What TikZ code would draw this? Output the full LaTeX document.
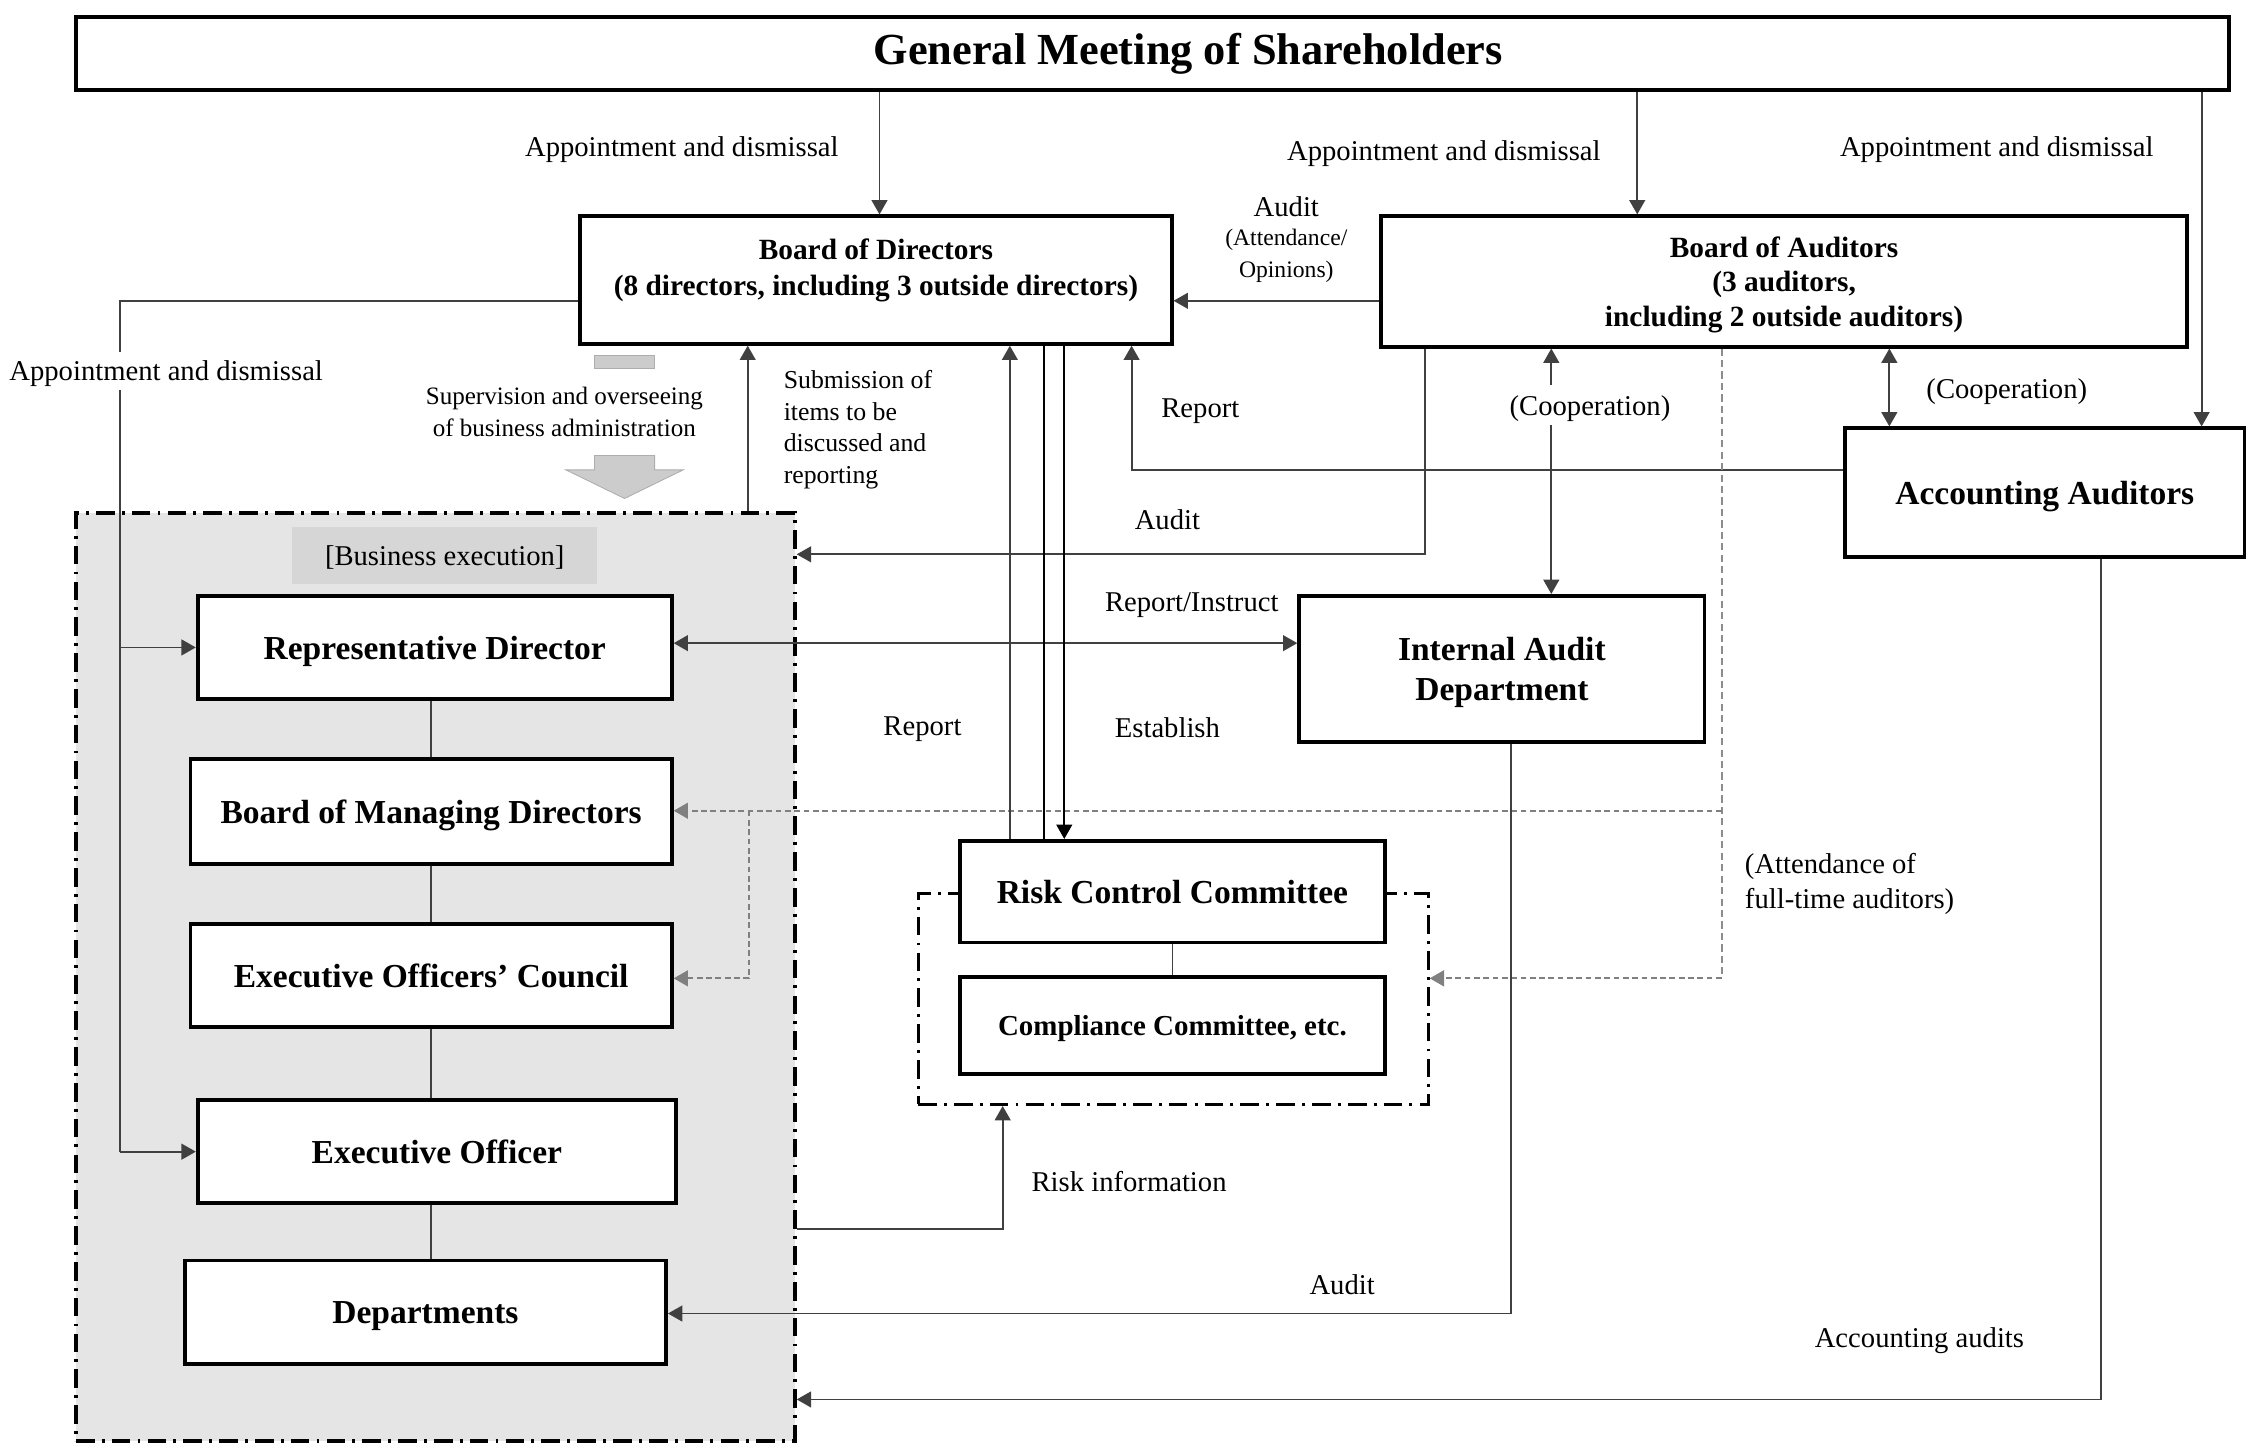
\documentclass[tikz,border=0pt]{standalone}
\usepackage{fontspec}
\setmainfont{Liberation Serif}
\usetikzlibrary{arrows.meta,calc}
\begin{document}
\begin{tikzpicture}[x=1pt,y=-1pt,
  box/.style={draw=black, line width=2.6pt, fill=white, inner sep=0pt, align=center, text depth=0pt, font=\bfseries\fontsize{23.4}{28}\selectfont},
  boxtext/.style={inner sep=0pt, align=center, text depth=0pt, font=\bfseries\fontsize{20.5}{25}\selectfont},
  lbl/.style={inner sep=1pt, text depth=0pt, font=\fontsize{20}{24}\selectfont, align=center},
  slbl/.style={inner sep=1pt, text depth=0pt, font=\fontsize{17.5}{22}\selectfont, align=center},
  conn/.style={draw=black!75, line width=1.3pt},
  tip/.style={-{Triangle[length=10pt,width=11pt]}},
  arr/.style={conn, tip},
  darr/.style={conn, {Triangle[length=10pt,width=11pt]}-{Triangle[length=10pt,width=11pt]}},
  dashA/.style={draw=black!50, line width=1.6pt, dash pattern=on 4pt off 2.5pt, tip},
  dashB/.style={draw=black!45, line width=1.1pt, dash pattern=on 5pt off 3pt},
  dashdot/.style={draw=black, line width=2.4pt, dash pattern=on 13pt off 5pt on 2pt off 5pt},
]
\useasboundingbox (0,0) rectangle (1568,1011);

% helper rows and columns
\foreach \r in {210,328,387,449,566,683,858,917,977}{\coordinate (r\r) at (0,\r);}
\foreach \c in {84,301,522,523,614,700,705,729,743,790,995,1055,1083,1143,1202,1319,1467,1537}{\coordinate (c\c) at (\c,0);}

% business execution area
\node[dashdot, fill=black!10, minimum width=502pt, minimum height=648pt, inner sep=0pt] (exec) at (304,682) {};
\node[fill=black!16, minimum width=213pt, minimum height=40pt, inner sep=0pt, text depth=0pt, font=\fontsize{20}{24}\selectfont] (bexlbl) at (310.5,388) {[Business execution]};

% risk committee group frame
\node[dashdot, line width=2.2pt, minimum width=356pt, minimum height=147pt, inner sep=0pt] (risk) at (819,697.5) {};

% supervision block arrow
\fill[black!20, draw=black!32, line width=0.6pt] (415,248) rectangle (457,257);
\fill[black!20, draw=black!32, line width=0.6pt] (415,318) -- (457,318) -- (457,328) -- (477,328) -- (436,348) -- (395,328) -- (415,328) -- cycle;

% boxes
\node[box, text depth=, font=\bfseries\fontsize{31}{36}\selectfont, minimum width=1503pt, minimum height=51pt] (gm) at (804.5,37.5) {\hspace*{50pt}General Meeting of Shareholders};
\node[box, minimum width=413pt, minimum height=89pt] (bod) at (611.5,195.5) {};
\node[boxtext] (bodt) at (611.5,186.5) {Board of Directors\\(8 directors, including 3 outside directors)};
\node[box, font=\bfseries\fontsize{20.5}{24}\selectfont, minimum width=563pt, minimum height=91pt] (boa) at (1245.5,196.5) {Board of Auditors\\(3 auditors,\\including 2 outside auditors)};
\node[box, minimum width=279pt, minimum height=90pt] (aa) at (1427.5,344) {Accounting Auditors};
\node[box, minimum width=283pt, minimum height=102pt] (iad) at (1048.5,467) {Internal Audit\\Department};
\node[box, minimum width=331pt, minimum height=72pt] (rd) at (303.5,452) {Representative Director};
\node[box, minimum width=336pt, minimum height=73pt] (bmd) at (301,566.5) {Board of Managing Directors};
\node[box, minimum width=336pt, minimum height=72pt] (eoc) at (301,681) {Executive Officers’ Council};
\node[box, minimum width=334pt, minimum height=72pt] (eo) at (305,804) {Executive Officer};
\node[box, minimum width=336pt, minimum height=72pt] (dep) at (297,916) {Departments};
\node[box, minimum width=297pt, minimum height=71pt] (rcc) at (818.5,622.5) {Risk Control Committee};
\node[box, font=\bfseries\fontsize{20.2}{24}\selectfont, minimum width=297pt, minimum height=68pt] (cc) at (818.5,716) {Compliance Committee, etc.};

% vertical chain inside business execution
\draw[conn] (rd.south -| c301) -- (bmd.north -| c301);
\draw[conn] (bmd.south -| c301) -- (eoc.north -| c301);
\draw[conn] (eoc.south -| c301) -- (eo.north -| c301);
\draw[conn] (eo.south -| c301) -- (dep.north -| c301);
\draw[conn] (rcc.south) -- (cc.north);

% appointment and dismissal from general meeting
\draw[arr] (gm.south -| c614) -- (bod.north -| c614);
\draw[arr] (gm.south -| c1143) -- (boa.north -| c1143);
\draw[arr] (gm.south -| c1537) -- (aa.north -| c1537);

% board of auditors to board of directors
\draw[arr] (boa.west |- r210) -- (bod.east |- r210);
% cooperation boa - accounting auditors
\draw[darr] (boa.south -| c1319) -- (aa.north -| c1319);
% report accounting auditors -> bod
\draw[arr] (aa.west |- r328) -| (bod.south -| c790);
% audit boa -> business execution
\draw[arr] (boa.south -| c995) |- (exec.east |- r387);
% cooperation boa - internal audit
\draw[darr] (boa.south -| c1083) -- (iad.north -| c1083);
% attendance of full-time auditors (dashed)
\draw[dashB] (boa.south -| c1202) -- (c1202 |- r683);
\draw[dashA] (c1202 |- r683) -- (risk.east |- r683);
\draw[dashA] (c1202 |- r566) -- (bmd.east |- r566);
\draw[dashA] (c523 |- r566) |- (eoc.east |- r683);
% report/instruct
\draw[darr] (rd.east |- r449) -- (iad.west |- r449);
% internal audit -> departments
\draw[arr] (iad.south -| c1055) |- (dep.east |- r917);
% accounting audits
\draw[arr] (aa.south -| c1467) |- (exec.east |- r977);
% bod <-> risk control committee
\draw[arr] (rcc.north -| c705) -- (bod.south -| c705);
\draw[conn, draw=black] (bod.south -| c729) -- (rcc.north -| c729);
\draw[arr, draw=black] (bod.south -| c743) -- (rcc.north -| c743);
% risk information
\draw[arr] (exec.east |- r858) -| (risk.south -| c700);
% submission
\draw[arr] (exec.north -| c522) -- (bod.south -| c522);
% bod appointment of representative director / executive officer
\draw[conn] (bod.west |- r210) -| (c84 |- eo.west);
\draw[arr] (c84 |- rd.west) -- (rd.west);
\draw[arr] (c84 |- eo.west) -- (eo.west);

% labels
\node[lbl] (l1) at (476,102) {Appointment and dismissal};
\node[lbl] (l2) at (1008,105) {Appointment and dismissal};
\node[lbl] (l3) at (1394,102) {Appointment and dismissal};
\node[lbl, fill=white, inner ysep=6pt] (l4) at (116,259) {Appointment and dismissal};
\node[lbl] (l5) at (898,144) {Audit};
\node[slbl, font=\fontsize{16.5}{22}\selectfont] (l6) at (898,177) {(Attendance/\\Opinions)};
\node[lbl] (l7) at (838,285) {Report};
\node[lbl, fill=white, inner ysep=7pt] (l8) at (1110,283) {(Cooperation)};
\node[lbl] (l9) at (1401,271) {(Cooperation)};
\node[lbl] (l10) at (815,363) {Audit};
\node[lbl] (l11) at (832,420) {Report/Instruct};
\node[lbl] (l12) at (644,507) {Report};
\node[lbl] (l13) at (815,508) {Establish};
\node[lbl, anchor=west, align=left] (l14) at (1217,615) {(Attendance of\\full-time auditors)};
\node[lbl, anchor=west] (l15) at (719,825) {Risk information};
\node[lbl] (l16) at (937,897) {Audit};
\node[lbl] (l17) at (1340,934) {Accounting audits};
\node[slbl] (l18) at (394,287.5) {Supervision and overseeing\\of business administration};
\node[slbl, font=\fontsize{18}{22}\selectfont, anchor=west, align=left] (l19) at (546,298) {Submission of\\items to be\\discussed and\\reporting};
\end{tikzpicture}
\end{document}
